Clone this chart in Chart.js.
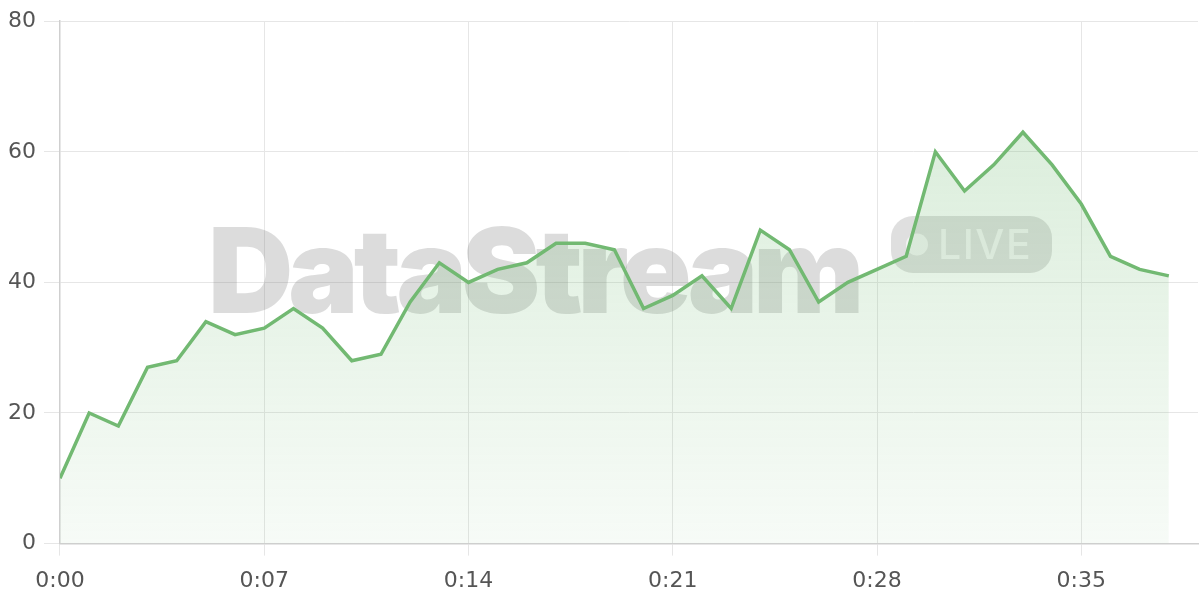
<!DOCTYPE html>
<html>
<head>
<meta charset="utf-8">
<script src="https://cdn.jsdelivr.net/npm/chart.js@4"></script>
<style>
html,body{margin:0;padding:0;background:#fff;}
#wrap{width:1200px;height:600px;}
</style>
</head>
<body>
<div id="wrap"><canvas id="c" width="1200" height="600"></canvas></div>
<script>
const minutes = [0,1,2,3,4,5,6,7,8,9,10,11,12,13,14,15,16,17,18,19,20,21,22,23,24,25,26,27,28,29,30,31,32,33,34,35,36,37,38];
const values = [10,20,18,27,28,34,32,33,36,33,28,29,37,43,40,42,43,46,46,45,36,38,41,36,48,45,37,40,42,44,60,54,58,63,58,52,44,42,41];
const yTicks = [0,20,40,60,80];
const xTickStep = 7;
const watermarkText = "DataStream";
const badgeText = "LIVE";

function fmt(m){ const mm = Math.floor(m/60), ss = m%60; return mm + ":" + String(ss).padStart(2,"0"); }

const watermark = {
  id: "watermark",
  beforeDatasetsDraw(chart){
    const {ctx} = chart;
    ctx.save();
    ctx.font = "900 118px Inter, 'DejaVu Sans', sans-serif";
    try { ctx.letterSpacing = "-5px"; } catch(e){}
    ctx.textBaseline = "alphabetic";
    ctx.textAlign = "left";
    ctx.fillStyle = "rgba(110,110,110,0.24)";
    ctx.fillText(watermarkText, 208, 313);
    // badge
    const bx = 891, by = 216, bw = 161, bh = 57;
    ctx.fillStyle = "rgba(110,110,110,0.22)";
    ctx.beginPath();
    ctx.roundRect(bx, by, bw, bh, 22);
    ctx.fill();
    ctx.fillStyle = "rgba(255,255,255,0.65)";
    ctx.beginPath();
    ctx.arc(bx + 26, by + bh/2, 11, 0, Math.PI*2);
    ctx.closePath();
    ctx.fill();
    try { ctx.letterSpacing = "1.5px"; } catch(e){}
    ctx.font = "500 41px Inter, 'DejaVu Sans', sans-serif";
    ctx.textBaseline = "middle";
    ctx.fillText(badgeText, bx + 47, by + bh/2 + 2);
    ctx.restore();
  }
};

const ctx = document.getElementById("c").getContext("2d");
new Chart(ctx, {
  type: "line",
  data: {
    datasets: [{
      data: minutes.map((m,i)=>({x:m, y:values[i]})),
      borderColor: "#72b972",
      borderWidth: 3.5,
      pointRadius: 0,
      tension: 0,
      fill: "origin",
      backgroundColor: (c) => {
        const a = c.chart.chartArea;
        if (!a) return "rgba(114,187,116,0.15)";
        const g = c.chart.ctx.createLinearGradient(0, a.top, 0, a.bottom);
        g.addColorStop(0, "rgba(114,187,116,0.30)");
        g.addColorStop(1, "rgba(114,187,116,0.06)");
        return g;
      }
    }]
  },
  options: {
    responsive: false,
    animation: false,
    layout: { padding: { top: 8, right: 2, left: 0, bottom: -6 } },
    plugins: { legend: { display: false }, tooltip: { enabled: false } },
    scales: {
      x: {
        type: "linear",
        min: 0, max: 39,
        grid: { color: "#e6e6e6", lineWidth: 1, tickLength: 12 },
        border: { color: "#cfcfcf", width: 1.5 },
        ticks: {
          stepSize: xTickStep, includeBounds: false,
          color: "#555", font: { family: "'DejaVu Sans', sans-serif", size: 22 },
          padding: 12, maxRotation: 0,
          callback: (v) => fmt(v)
        }
      },
      y: {
        min: 0, max: 80,
        grid: { color: "#e6e6e6", lineWidth: 1, tickLength: 16 },
        border: { color: "#cfcfcf", width: 1.5 },
        afterBuildTicks: (s) => { s.ticks = yTicks.map(v => ({value: v})); },
        ticks: {
          color: "#555", font: { family: "'DejaVu Sans', sans-serif", size: 22 },
          padding: 8
        }
      }
    }
  },
  plugins: [watermark]
});
</script>
</body>
</html>
